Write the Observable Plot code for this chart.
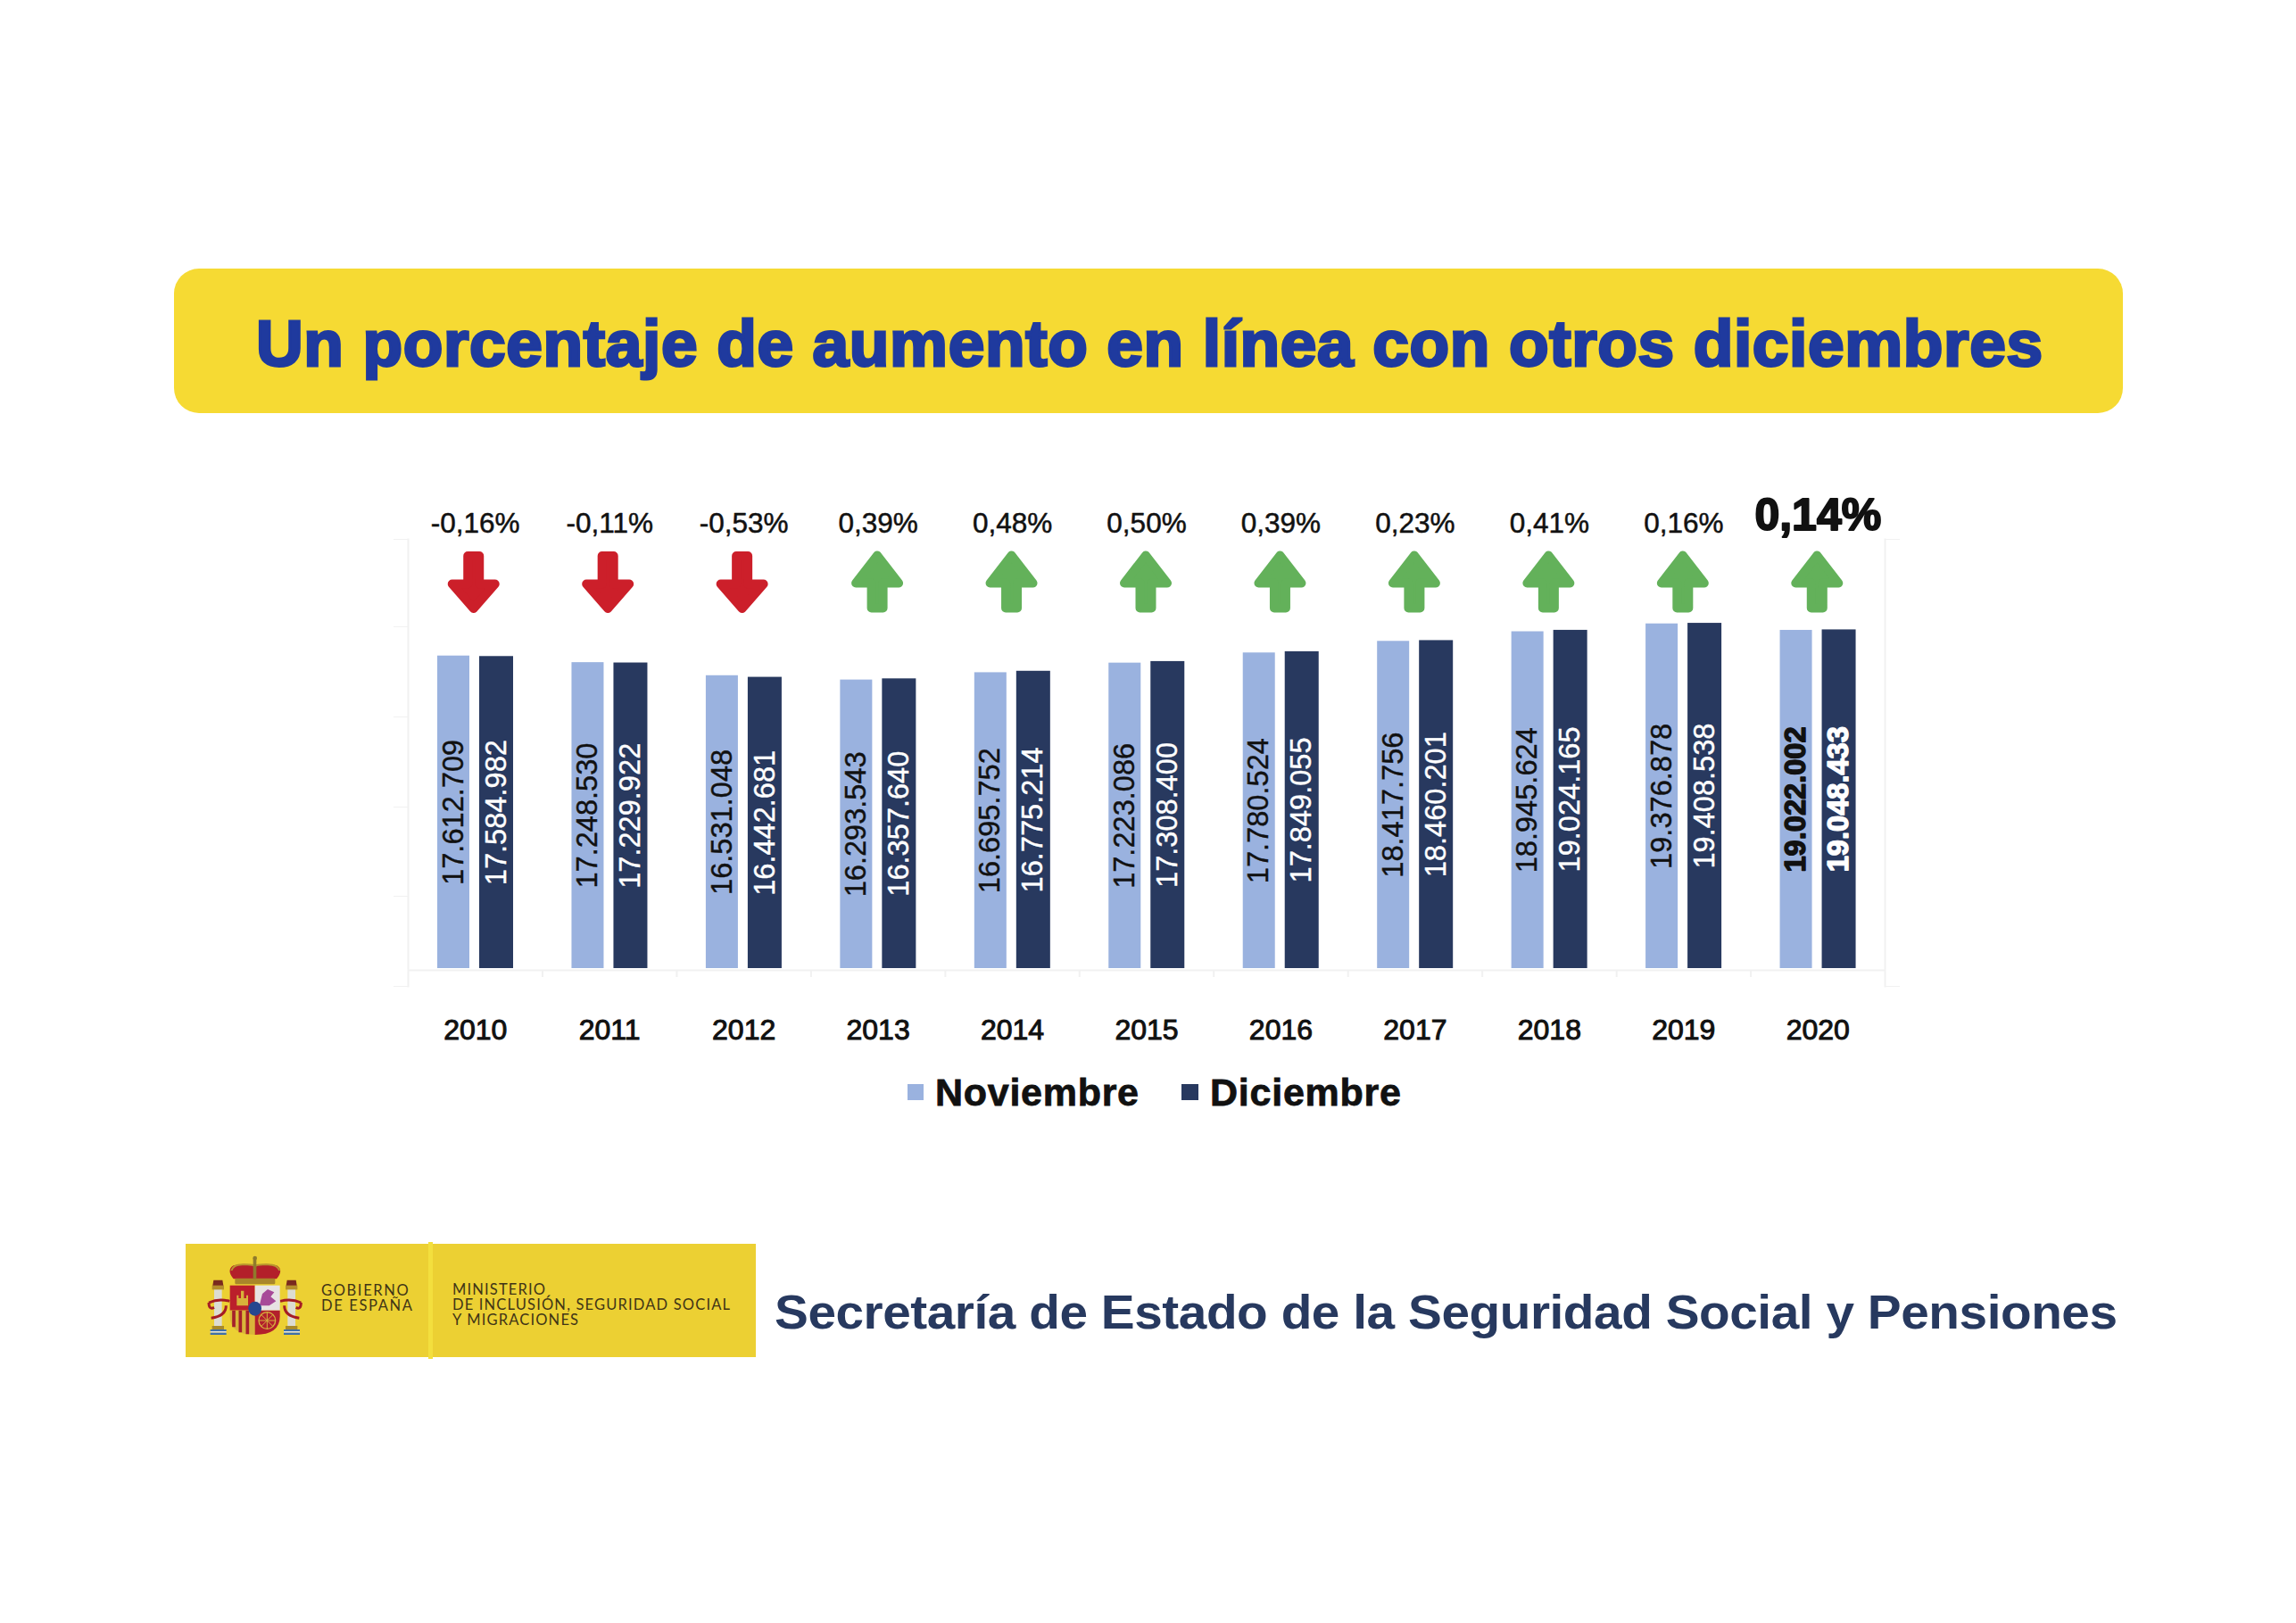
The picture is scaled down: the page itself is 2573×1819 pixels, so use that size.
<!DOCTYPE html>
<html lang="es">
<head>
<meta charset="utf-8">
<title>Un porcentaje de aumento en línea con otros diciembres</title>
<script src="https://cdn.jsdelivr.net/npm/d3@7"></script>
<script src="https://cdn.jsdelivr.net/npm/@observablehq/plot@0.6"></script>
<style>
  html,body{margin:0;padding:0;background:#fff;}
  #page{position:relative;width:2573px;height:1819px;overflow:hidden;font-family:"Liberation Sans",Arial,sans-serif;}
  #banner{position:absolute;left:195px;top:301px;width:2184px;height:162px;background:#f6da33;border-radius:28px;}
  #title{position:absolute;left:287px;top:335px;white-space:nowrap;font-weight:700;font-size:73px;line-height:100px;color:#1f3a9e;-webkit-text-stroke:3px #1f3a9e;}
  #chart{position:absolute;left:400px;top:520px;}
  #chart svg{background:transparent;overflow:visible;}
  [aria-label="x-axis tick label"] text{stroke:#111;stroke-width:1px;}
  .sw{position:absolute;width:18px;height:18px;top:1215px;}
  .lg{position:absolute;top:1199px;font-weight:700;font-size:43px;line-height:50px;color:#111;white-space:nowrap;-webkit-text-stroke:.8px #111;}
  #logo{position:absolute;left:208px;top:1394px;width:639px;height:127px;background:#ecd033;}
  #divider{position:absolute;left:480px;top:1392px;width:5px;height:131px;background:#f3df3e;}
  .lt{position:absolute;font-family:Lato,"Open Sans",sans-serif;font-size:16.5px;line-height:16.8px;color:#3f3416;white-space:nowrap;}
  #emblem{position:absolute;left:220px;top:1400px;width:200px;height:120px;}
  #foot{position:absolute;left:868px;top:1441px;font-weight:700;font-size:53px;line-height:60px;color:#27395f;white-space:nowrap;transform-origin:left center;}
</style>
</head>
<body>
<div id="page">
  <div id="banner"></div>
  <div id="title">Un porcentaje de aumento en línea con otros diciembres</div>
  <div id="chart"></div>
  <div class="sw" style="left:1017px;background:#9ab2df"></div>
  <div class="lg" id="lgN" style="left:1048px">Noviembre</div>
  <div class="sw" style="left:1324px;width:19px;background:#28395f"></div>
  <div class="lg" id="lgD" style="left:1356px">Diciembre</div>
  <div id="logo"></div>
  <div id="divider"></div>
  <svg id="emblem" viewBox="0 0 600 360">
    <g id="p">
      <rect x="60" y="135" width="26" height="125" fill="#dcdcd2"/>
      <rect x="53" y="122" width="40" height="14" fill="#b58f2c"/>
      <path d="M55 122 L58 104 H88 L91 122 Z" fill="#7a2a1e"/>
      <rect x="53" y="258" width="40" height="12" fill="#a88a2a"/>
      <rect x="47" y="270" width="54" height="6" fill="#3f6fa8"/>
      <rect x="47" y="276" width="54" height="5" fill="#e8e8e0"/>
      <rect x="47" y="281" width="54" height="7" fill="#3f6fa8"/>
    </g>
    <use href="#p" x="247"/>
    <path d="M42 180 Q75 165 112 175 M42 180 Q42 205 60 196 M100 190 Q100 225 50 232" fill="none" stroke="#a51c24" stroke-width="9"/>
    <path d="M352 180 Q320 165 282 175 M352 180 Q352 205 335 196 M296 190 Q296 225 346 232" fill="none" stroke="#a51c24" stroke-width="9"/>
    <path d="M125 100 Q100 70 125 55 Q160 45 197 55 Q235 45 270 55 Q295 70 270 100 Z" fill="#b3202a"/>
    <path d="M118 72 Q125 50 160 52 Q190 50 197 58 Q205 50 235 52 Q272 50 280 72" fill="none" stroke="#b8962e" stroke-width="6"/>
    <rect x="130" y="98" width="135" height="20" rx="4" fill="#a9862a"/>
    <rect x="191" y="30" width="11" height="70" fill="#8f7a2c"/>
    <circle cx="197" cy="30" r="7" fill="#8f7a2c"/>
    <rect x="113" y="122" width="84" height="84" fill="#bb1f2b"/>
    <rect x="197" y="122" width="84" height="84" fill="#e7e3e3"/>
    <path d="M113 206 H197 V288 Q113 288 113 226 Z" fill="#d9b53a"/>
    <path d="M126 206 V262 M148 206 V280 M172 206 V286" stroke="#a5202a" stroke-width="11"/>
    <path d="M197 206 H281 V226 Q281 288 197 288 Z" fill="#b3202c"/>
    <circle cx="238" cy="240" r="28" fill="none" stroke="#d7b43e" stroke-width="4"/>
    <path d="M238 212 V268 M210 240 H266 M218 220 L258 260 M258 220 L218 260" stroke="#d7b43e" stroke-width="3"/>
    <path d="M136 190 V155 H142 V165 H150 V140 H160 V165 H168 V155 H174 V190 Z" fill="#d8b23a"/>
    <path d="M212 190 L222 150 L240 135 L262 145 L250 160 L268 175 L245 190 Z" fill="#a74a98"/>
    <ellipse cx="197" cy="200" rx="22" ry="24" fill="#25478f"/>
  </svg>
  <div class="lt" id="gob" style="left:360px;top:1438px">GOBIERNO<br>DE ESPAÑA</div>
  <div class="lt" id="min" style="left:507px;top:1437px">MINISTERIO<br>DE INCLUSIÓN, SEGURIDAD SOCIAL<br>Y MIGRACIONES</div>
  <div id="foot">Secretaría de Estado de la Seguridad Social y Pensiones</div>
</div>
<script>
const years = [2010,2011,2012,2013,2014,2015,2016,2017,2018,2019,2020];
const noviembre = [17612709,17248530,16531048,16293543,16695752,17223086,17780524,18417756,18945624,19376878,19022002];
const diciembre = [17584982,17229922,16442681,16357640,16775214,17308400,17849055,18460201,19024165,19408538,19048433];
const variacion = [-0.16,-0.11,-0.53,0.39,0.48,0.50,0.39,0.23,0.41,0.16,0.14];
// The reference's bars stand on a slightly offset baseline inside a faint frame.
const barBase = 441000;
const axisBase = 343000;
const tickEnd = -50000;
const frameLevels = [-539000,4410000,9310000,14260000,19220000,24020000];

const colNov = "#9ab2df", colDic = "#28395f", frameCol = "#f1f1f1";
const fmt = d3.formatLocale({decimal:",",thousands:".",grouping:[3]}).format(",d");
const pct = v => v.toFixed(2).replace(".",",") + "%";
const nov = years.map((year,i)=>({year,v:noviembre[i]}));
const dic = years.map((year,i)=>({year,v:diciembre[i]}));
const change = years.map((year,i)=>({year,p:variacion[i]}));
const last = years[years.length-1];

const polygon = pts => ({draw(ctx,size){
  const k = Math.sqrt(size/Math.PI)/30;
  pts.forEach(([x,y],i)=> i ? ctx.lineTo(x*k,y*k) : ctx.moveTo(x*k,y*k));
  ctx.closePath();
}});
const arrowUp = polygon([[0,-29.5],[24,1.5],[6.5,1.5],[6.5,29.5],[-6.5,29.5],[-6.5,1.5],[-24,1.5]]);
const arrowDown = polygon([[0,29.5],[24,2],[6.5,2],[6.5,-29.5],[-6.5,-29.5],[-6.5,2],[-24,2]]);

const labelMark = (rows,fill,dx) => [
  Plot.text(rows.filter(d=>d.year!==last),{x:"year",y:d=>(d.v+barBase)/2,text:d=>fmt(d.v),rotate:-90,fill,stroke:fill,strokeWidth:.4,dx,fontSize:32.6,lineAnchor:"middle",textAnchor:"middle"}),
  Plot.text(rows.filter(d=>d.year===last),{x:"year",y:d=>(d.v+barBase)/2,text:d=>fmt(d.v),rotate:-90,fill,stroke:fill,strokeWidth:1.4,dx,fontSize:32.6,fontWeight:700,lineAnchor:"middle",textAnchor:"middle"})
];

const chart = Plot.plot({
  width:1800,height:700,
  marginLeft:57,marginRight:88,marginTop:84,marginBottom:115,
  style:{fontFamily:'"Liberation Sans",Arial,sans-serif',background:"transparent"},
  x:{type:"band",domain:years,padding:0,round:false,axis:null},
  y:{domain:[frameLevels[0],frameLevels[frameLevels.length-1]],axis:null},
  marks:[
    Plot.frame({anchor:"left",stroke:frameCol,strokeWidth:2}),
    Plot.frame({anchor:"right",stroke:frameCol,strokeWidth:2}),
    Plot.axisY({anchor:"left",ticks:frameLevels,tickSize:16,stroke:frameCol,fill:"none",label:null}),
    Plot.axisY({anchor:"right",ticks:[frameLevels[0],frameLevels[frameLevels.length-1]],tickSize:16,stroke:frameCol,fill:"none",label:null}),
    Plot.ruleY([axisBase],{stroke:frameCol,strokeWidth:2}),
    Plot.ruleX(years.slice(1),{x:d=>d,dx:-75.2,y1:axisBase,y2:tickEnd,stroke:frameCol,strokeWidth:2}),
    Plot.barY(nov,{x:"year",y1:()=>barBase,y2:"v",fill:colNov,insetLeft:33,insetRight:81.45}),
    Plot.barY(dic,{x:"year",y1:()=>barBase,y2:"v",fill:colDic,insetLeft:80,insetRight:32.45}),
    ...labelMark(nov,"#111",-24.5),
    ...labelMark(dic,"#fff",23.5),
    Plot.dot(change.filter(d=>d.p>=0),{x:"year",frameAnchor:"top",dy:47.5,dx:-1,r:30,symbol:arrowUp,fill:"#63b15a",stroke:"#63b15a",strokeWidth:10,strokeLinejoin:"round"}),
    Plot.dot(change.filter(d=>d.p<0),{x:"year",frameAnchor:"top",dy:48,dx:-2,r:30,symbol:arrowDown,fill:"#cc1f2a",stroke:"#cc1f2a",strokeWidth:10,strokeLinejoin:"round"}),
    Plot.text(change.filter(d=>d.year!==last),{x:"year",text:d=>pct(d.p),frameAnchor:"top",dy:-18,fontSize:31.5,fill:"#111",stroke:"#111",strokeWidth:.5,lineAnchor:"middle"}),
    Plot.text(change.filter(d=>d.year===last),{x:"year",text:d=>pct(d.p),frameAnchor:"top",dy:-27,fontSize:50,fontWeight:700,fill:"#111",stroke:"#111",strokeWidth:2,lineAnchor:"middle"}),
    Plot.axisX({anchor:"bottom",tickSize:0,tickPadding:37,fontSize:32,fill:"#111",tickFormat:d=>String(d),label:null})
  ]
});
document.getElementById("chart").appendChild(chart);

// Fit each text run to the width it has in the reference; n is the longest line's character count.
const fit = (id,w,n) => {
  const el = document.getElementById(id);
  const count = n || el.textContent.length;
  el.style.letterSpacing = ((w - el.getBoundingClientRect().width)/(count-1)) + "px";
};
const stretch = 1.07;
fit("title",2002); fit("foot",1505/stretch); fit("lgN",228); fit("lgD",214);
fit("gob",102,9); fit("min",311,30);
document.getElementById("foot").style.transform = `scaleX(${stretch})`;
</script>
</body>
</html>
